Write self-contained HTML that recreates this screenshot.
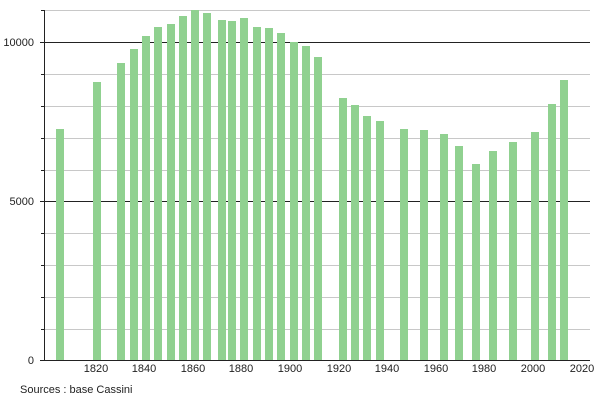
<!DOCTYPE html>
<html><head><meta charset="utf-8"><style>
body{margin:0;background:#fff;width:600px;height:400px;overflow:hidden}
text{font-family:"Liberation Sans",sans-serif;font-size:11px;fill:#222}
</style></head><body>
<svg width="600" height="400" xmlns="http://www.w3.org/2000/svg">
<g stroke="#c8c8c8" stroke-width="1">
<line x1="44" x2="590" y1="10.5" y2="10.5"/>
<line x1="44" x2="590" y1="74.5" y2="74.5"/>
<line x1="44" x2="590" y1="106.5" y2="106.5"/>
<line x1="44" x2="590" y1="138.5" y2="138.5"/>
<line x1="44" x2="590" y1="170.5" y2="170.5"/>
<line x1="44" x2="590" y1="233.5" y2="233.5"/>
<line x1="44" x2="590" y1="265.5" y2="265.5"/>
<line x1="44" x2="590" y1="297.5" y2="297.5"/>
<line x1="44" x2="590" y1="329.5" y2="329.5"/>
</g>
<g stroke="#222" stroke-width="1">
<line x1="40" x2="590" y1="42.5" y2="42.5"/>
<line x1="40" x2="590" y1="201.5" y2="201.5"/>
</g>
<g fill="#90d190" id="bars"></g>
<g stroke="#222" stroke-width="1">
<line x1="44.5" x2="44.5" y1="10" y2="360"/>
<line x1="40" x2="590" y1="360.5" y2="360.5"/>
<line x1="41" x2="44" y1="10.5" y2="10.5"/>
<line x1="41" x2="44" y1="74.5" y2="74.5"/>
<line x1="41" x2="44" y1="106.5" y2="106.5"/>
<line x1="41" x2="44" y1="138.5" y2="138.5"/>
<line x1="41" x2="44" y1="170.5" y2="170.5"/>
<line x1="41" x2="44" y1="233.5" y2="233.5"/>
<line x1="41" x2="44" y1="265.5" y2="265.5"/>
<line x1="41" x2="44" y1="297.5" y2="297.5"/>
<line x1="41" x2="44" y1="329.5" y2="329.5"/>
</g>
<text x="34" y="46" text-anchor="end">10000</text>
<text x="34" y="205" text-anchor="end">5000</text>
<text x="34" y="364" text-anchor="end">0</text>
<g text-anchor="middle">
<text x="96" y="372">1820</text><text x="144" y="372">1840</text><text x="193" y="372">1860</text>
<text x="241" y="372">1880</text><text x="290" y="372">1900</text><text x="339" y="372">1920</text>
<text x="387" y="372">1940</text><text x="436" y="372">1960</text><text x="484" y="372">1980</text>
<text x="533" y="372">2000</text><text x="582" y="372">2020</text>
</g>
<text x="20" y="393">Sources : base Cassini</text>
<g fill="#90d190">
<rect x="56" y="129" width="8" height="231"/>
<rect x="93" y="82" width="8" height="278"/>
<rect x="117" y="63" width="8" height="297"/>
<rect x="130" y="49" width="8" height="311"/>
<rect x="142" y="36" width="8" height="324"/>
<rect x="154" y="27" width="8" height="333"/>
<rect x="167" y="24" width="8" height="336"/>
<rect x="179" y="16" width="8" height="344"/>
<rect x="191" y="10" width="8" height="350"/>
<rect x="203" y="13" width="8" height="347"/>
<rect x="218" y="20" width="8" height="340"/>
<rect x="228" y="21" width="8" height="339"/>
<rect x="240" y="18" width="8" height="342"/>
<rect x="253" y="27" width="8" height="333"/>
<rect x="265" y="28" width="8" height="332"/>
<rect x="277" y="33" width="8" height="327"/>
<rect x="290" y="42" width="8" height="318"/>
<rect x="302" y="46" width="8" height="314"/>
<rect x="314" y="57" width="8" height="303"/>
<rect x="339" y="98" width="8" height="262"/>
<rect x="351" y="105" width="8" height="255"/>
<rect x="363" y="116" width="8" height="244"/>
<rect x="376" y="121" width="8" height="239"/>
<rect x="400" y="129" width="8" height="231"/>
<rect x="420" y="130" width="8" height="230"/>
<rect x="440" y="134" width="8" height="226"/>
<rect x="455" y="146" width="8" height="214"/>
<rect x="472" y="164" width="8" height="196"/>
<rect x="489" y="151" width="8" height="209"/>
<rect x="509" y="142" width="8" height="218"/>
<rect x="531" y="132" width="8" height="228"/>
<rect x="548" y="104" width="8" height="256"/>
<rect x="560" y="80" width="8" height="280"/>
</g>
<line x1="40" x2="590" y1="360.5" y2="360.5" stroke="#222"/>
</svg>
</body></html>
